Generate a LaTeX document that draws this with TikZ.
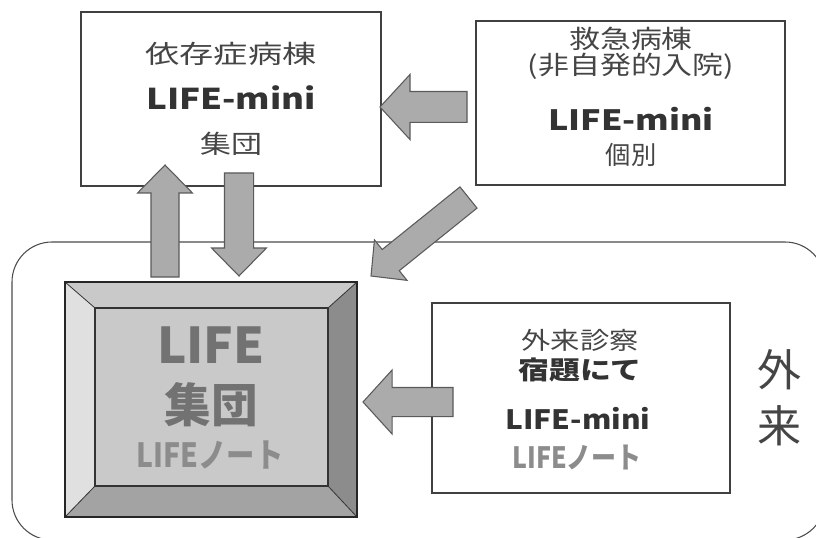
\documentclass[tikz,border=0pt]{standalone}
\usepackage{fontspec}
\usetikzlibrary{calc}
\newfontfamily\jp{Noto Sans CJK JP}
\newfontfamily\jpwa[FakeStretch=1.35]{Noto Sans CJK JP}
\newfontfamily\jpwb[FakeStretch=1.22]{Noto Sans CJK JP}
\newfontfamily\jpwc[FakeStretch=1.12]{Noto Sans CJK JP}
\newfontfamily\jpn[FakeStretch=0.85]{Noto Sans CJK JP}
\definecolor{txt}{HTML}{333333}
\definecolor{thintxt}{HTML}{454545}
\definecolor{lifegray}{HTML}{727272}
\definecolor{notegray}{HTML}{8C8C8C}
\definecolor{arrfill}{HTML}{ABABAB}
\definecolor{arrline}{HTML}{5A5A5A}
\tikzset{
  plainbox/.style={draw=black!75, line width=0.9pt, fill=white, inner sep=0pt},
  barrow/.style={draw=arrline, line width=0.8pt, fill=arrfill, line join=miter},
  lbl/.style={inner sep=0pt, text=txt, anchor=center},
  thin lbl/.style={lbl, text=thintxt},
}
\newcommand\blockarrow[5]{%
  \coordinate (ba-b) at ($(#2)!#5!(#1)$);
  \draw[barrow] ($(#1)!#3!90:(#2)$) -- ($(ba-b)!#3!90:(#2)$) -- ($(ba-b)!#4!90:(#2)$) -- (#2)
    -- ($(ba-b)!#4!-90:(#2)$) -- ($(ba-b)!#3!-90:(#2)$) -- ($(#1)!#3!-90:(#2)$) -- cycle;}
\begin{document}
\begin{tikzpicture}[x=0.75pt,y=-0.75pt]
\useasboundingbox (0,0) rectangle (816,538);
% outer "外来" region
\draw[draw=black!70, line width=0.8pt, rounded corners=30pt] (12,242) rectangle (825,540);
% boxes
\node[plainbox, minimum width=225pt, minimum height=130.5pt] (A) at (231,99) {};
\node[plainbox, minimum width=231.75pt, minimum height=123pt] (B) at (630.5,103) {};
\node[plainbox, minimum width=223.5pt, minimum height=142.5pt] (D) at (581,398) {};
% bevelled box C
\coordinate (o1) at (65,282); \coordinate (o2) at (357,282);
\coordinate (o3) at (357,517); \coordinate (o4) at (65,517);
\coordinate (i1) at (95,308); \coordinate (i2) at (328,308);
\coordinate (i3) at (328,486); \coordinate (i4) at (95,486);
\fill[black!21] (o1) -- (o2) -- (i2) -- (i1) -- cycle;
\fill[black!12] (o1) -- (i1) -- (i4) -- (o4) -- cycle;
\fill[black!45] (o2) -- (o3) -- (i3) -- (i2) -- cycle;
\fill[black!36] (o4) -- (i4) -- (i3) -- (o3) -- cycle;
\fill[black!21] (i1) rectangle (i3);
\draw[black!80, line width=0.6pt] (o1) -- (i1) (o2) -- (i2) (o3) -- (i3) (o4) -- (i4);
\draw[black!80, line width=1pt] (i1) rectangle (i3);
\draw[black!85, line width=1pt] (o1) rectangle (o3);
\node[inner sep=0pt, minimum width=174.75pt, minimum height=133.5pt] (C) at (211.5,397) {};
% block arrows
\coordinate (upTail) at (165,277); \coordinate (upTip) at (165,165);
\coordinate (dnTail) at (239,173); \coordinate (dnTip) at (239,276);
\coordinate (lfTail) at (467,107); \coordinate (lfTip) at (380,107);
\coordinate (dgTail) at (468.5,197.5); \coordinate (dgTip) at (371,276);
\coordinate (ldTail) at (453,402); \coordinate (ldTip) at (363,402);
\blockarrow{upTail}{upTip}{10.5pt}{20.6pt}{21pt}
\blockarrow{dnTail}{dnTip}{10.9pt}{20.6pt}{21pt}
\blockarrow{lfTail}{lfTip}{11.6pt}{24.4pt}{22.5pt}
\blockarrow{dgTail}{dgTip}{10.2pt}{19.5pt}{19pt}
\blockarrow{ldTail}{ldTip}{10.9pt}{24pt}{21.8pt}
% texts box A
\node[thin lbl, font=\jpwa\fontsize{19pt}{19pt}\selectfont] (a1) at (231,54) {依存症病棟};
\node[lbl, font=\jpwb\bfseries\fontsize{21.5pt}{21.5pt}\selectfont] (a2) at (231,98) {LIFE-mini};
\node[thin lbl, font=\jpwb\fontsize{19pt}{19pt}\selectfont] (a3) at (231,144) {集団};
% texts box B
\node[thin lbl, font=\jpwb\fontsize{19pt}{19pt}\selectfont] (b1) at (631,39) {救急病棟};
\node[thin lbl, font=\jpwb\fontsize{19pt}{19pt}\selectfont] (b2) at (631,66) {(非自発的入院)};
\node[lbl, font=\jpwb\bfseries\fontsize{21pt}{21pt}\selectfont] (b3) at (631,119) {LIFE-mini};
\node[thin lbl, font=\jp\fontsize{19pt}{19pt}\selectfont] (b4) at (631,155) {個別};
% texts box C
\node[lbl, text=lifegray, font=\jp\bfseries\fontsize{37pt}{37pt}\selectfont] (c1) at (211,345) {LIFE};
\node[lbl, text=lifegray, font=\jp\bfseries\fontsize{35pt}{35pt}\selectfont] (c2) at (211,405) {集団};
\node[lbl, text=notegray, font=\jpn\bfseries\fontsize{25pt}{25pt}\selectfont] (c3) at (210,455) {LIFEノート};
% texts box D
\node[thin lbl, font=\jpwb\fontsize{18pt}{18pt}\selectfont] (d1) at (580,340) {外来診察};
\node[lbl, font=\jpwb\bfseries\fontsize{19pt}{19pt}\selectfont] (d2) at (580,370) {宿題にて};
\node[lbl, font=\jpwc\bfseries\fontsize{20pt}{20pt}\selectfont] (d3) at (578,418) {LIFE-mini};
\node[lbl, text=notegray, font=\jpn\bfseries\fontsize{22pt}{22pt}\selectfont] (d4) at (577,457) {LIFEノート};
% outpatient label
\node[thin lbl, font=\jp\fontsize{33pt}{33pt}\selectfont] (e1) at (779,370) {外};
\node[thin lbl, font=\jp\fontsize{33pt}{33pt}\selectfont] (e2) at (779,426) {来};
\end{tikzpicture}
\end{document}
